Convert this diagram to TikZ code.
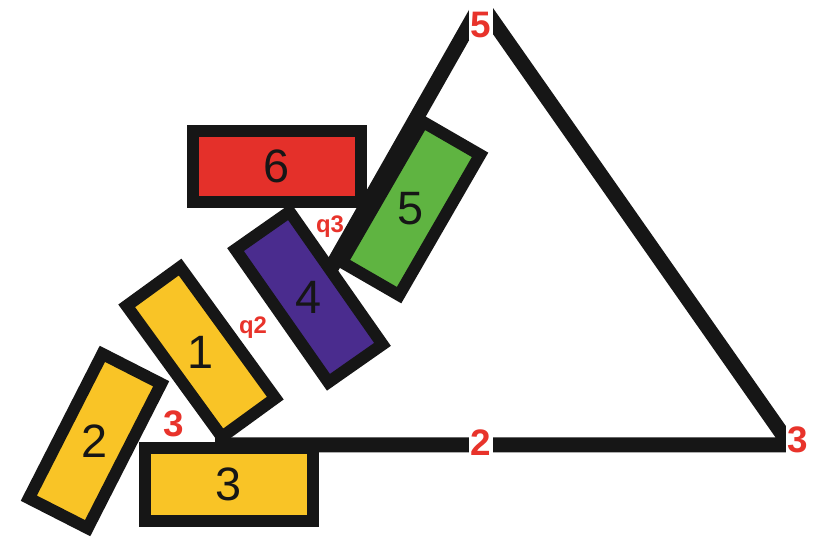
\documentclass[tikz,border=0pt]{standalone}
\usepackage{fontspec}
\setmainfont{Liberation Sans}
\usetikzlibrary{positioning}
\definecolor{blkyellow}{HTML}{F9C426}
\definecolor{blkred}{HTML}{E4302A}
\definecolor{blkgreen}{HTML}{5FB441}
\definecolor{blkviolet}{HTML}{4A2C8E}
\definecolor{ink}{HTML}{161616}
\definecolor{tagred}{HTML}{E8332B}

\begin{document}
\begin{tikzpicture}[
   x=1bp, y=1bp,
   block/.style={rectangle, draw=ink, line width=12bp, minimum width=162bp,
                 minimum height=66bp, inner sep=0pt},
   num/.style={font=\fontsize{47}{47}\selectfont, text=ink},
   tag/.style={font=\bfseries\fontsize{37}{37}\selectfont, text=tagred, inner sep=2bp},
   qtag/.style={font=\bfseries\fontsize{24}{24}\selectfont, text=tagred, inner sep=0pt},
   side/.style={draw=ink, line width=15bp, line join=bevel}]
 \useasboundingbox (0,0) rectangle (823,538);
 \coordinate (apex) at (481,534);
 \coordinate (lv)   at (215,93);
 \coordinate (rv)   at (790,93);
 \coordinate (lend) at (313,238);
 \draw[side] (lend) -- (apex) -- (rv) -- (lv);
 \node[block, fill=blkyellow, minimum width=168bp, minimum height=73bp] (b3) at (228.5,53.5) {};
 \node[block, fill=blkyellow, rotate=63]  (b2) at (95,97) {};
 \node[block, fill=blkyellow, rotate=-54] (b1) at (201,186) {};
 \node[block, fill=blkred, minimum width=168bp, minimum height=71bp] (b6) at (277,371.5) {};
 \node[block, fill=blkgreen, rotate=60]   (b5) at (411,329.5) {};
 \node[block, fill=blkviolet, rotate=-55] (b4) at (309,241) {};
 \node[num] (n1) at (b1) {1};
 \node[num] (n2) at (b2) {2};
 \node[num] (n3) at (b3) {3};
 \node[num] (n4) at (b4) {4};
 \node[num] (n5) at (b5) {5};
 \node[num] (n6) at (b6) {6};
 \node[tag, fill=white, text height=40bp, anchor=base] (t5) at (481,500) {5};
 \node[tag, fill=white] (t2)  at (481,95) {2};
 \node[tag, fill=white] (t3r) at (798,98) {3};
 \node[tag] (t3l) at (174,114) {3};
 \node[qtag] (q2) at (253,210) {q2};
 \node[qtag] (q3) at (330,311) {q3};
\end{tikzpicture}
\end{document}
